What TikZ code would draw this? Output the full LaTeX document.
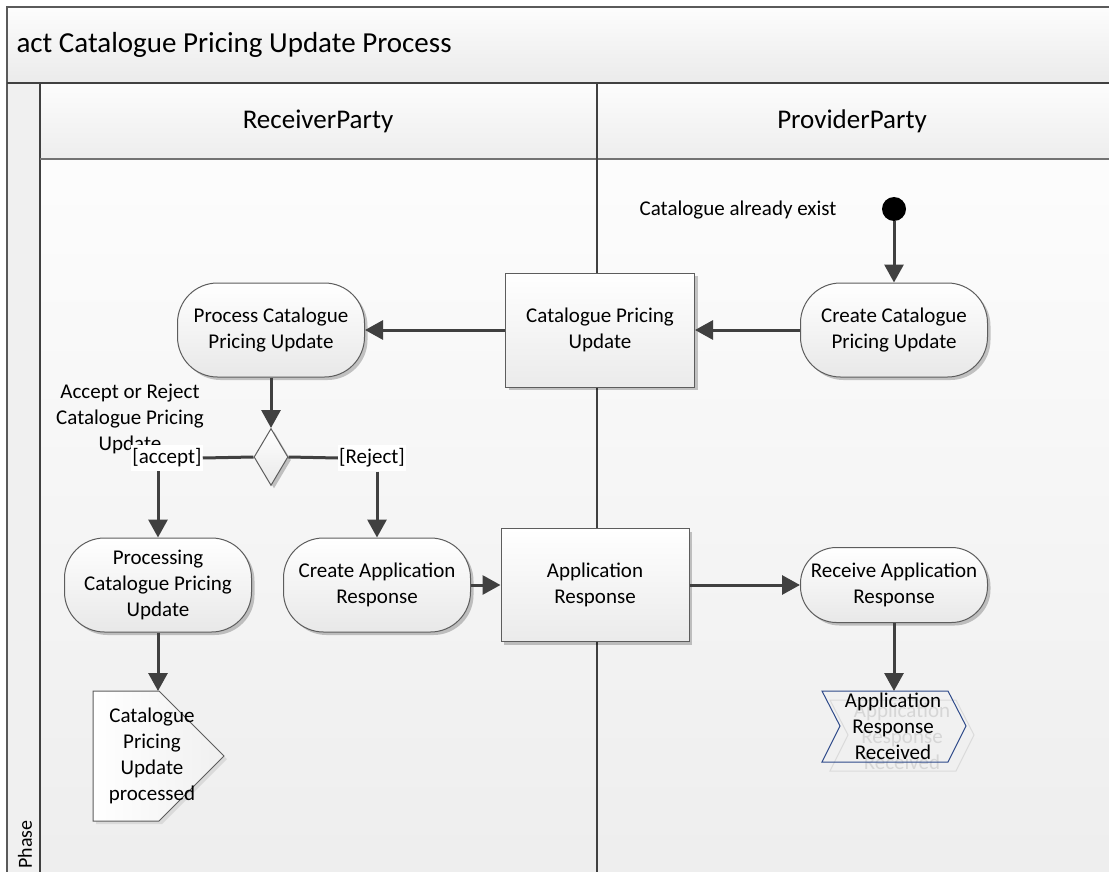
\documentclass[tikz,border=0pt]{standalone}
\usepackage{fontspec}
\setmainfont{Carlito}
\usetikzlibrary{arrows.meta,shapes.geometric,shadows}
\definecolor{ln}{HTML}{404040}
\definecolor{frame}{HTML}{5A5A5A}
\definecolor{evblue}{HTML}{2E4A8A}
\newcommand\txtbody{\fontsize{21}{26}\selectfont}
\newcommand\txttitle{\fontsize{29}{34}\selectfont}
\newcommand\txthead{\fontsize{27}{32}\selectfont}
\tikzset{
  sh/.style={drop shadow={shadow xshift=3pt,shadow yshift=-3pt,fill=black,opacity=.22}},
  action/.style={draw=ln!85,line width=1pt,rounded corners=40pt,minimum width=187pt,minimum height=94pt,
    align=center,top color=white,bottom color=black!9,sh,inner sep=2pt,font=\txtbody},
  objbox/.style={draw=ln!85,line width=1pt,rectangle,align=center,top color=white,bottom color=black!8,sh,font=\txtbody},
  flow/.style={draw=ln,line width=3pt,-{Triangle[length=18pt,width=19pt]}},
  plainflow/.style={draw=ln,line width=3pt},
  guard/.style={fill=white,inner xsep=1pt,inner ysep=4pt,font=\txtbody},
  lbl/.style={align=center,font=\txtbody},
}
\begin{document}
\begin{tikzpicture}[x=1pt,y=-1pt]
\useasboundingbox (0,0) rectangle (1109,872);
\begin{scope}
\clip (0,0) rectangle (1109,872);
\fill[white] (0,0) rectangle (1109,872);
% title band
\shade[top color=black!1,bottom color=black!8] (7,7) rectangle (1140,83);
% headers
\shade[top color=black!1,bottom color=black!7] (40,83) rectangle (1140,159);
% phase column
\fill[black!6] (7,83) rectangle (40,900);
% lane bodies
\shade[top color=black!1,bottom color=black!7] (40,159) rectangle (1140,900);
% lines
\draw[frame,line width=2pt] (7,900) -- (7,7) -- (1140,7);
\draw[ln,line width=2.5pt] (7,83) -- (1140,83);
\draw[ln,line width=1.6pt] (40,83) -- (40,900);
\draw[black!55,line width=1.6pt] (40,159) -- (1140,159);
\draw[ln,line width=2pt] (597,83) -- (597,900);
\end{scope}

% texts of the frame
\node[anchor=west,font=\txttitle] (title) at (13,45) {act Catalogue Pricing Update Process};
\node[font=\txthead] (recv) at (318,121) {ReceiverParty};
\node[font=\txthead] (prov) at (852,121) {ProviderParty};
\node[rotate=90,anchor=west,font=\fontsize{20}{24}\selectfont] (phase) at (25,872) {Phase};

% initial node
\node[circle,fill=black,minimum size=24pt,inner sep=0pt] (init) at (894,209) {};
\node[lbl] (exist) at (738,210) {Catalogue already exist};

% actions and objects
\node[action] (create) at (894,330) {Create Catalogue\\Pricing Update};
\node[objbox,minimum width=189pt,minimum height=114pt] (cpu) at (600,330) {Catalogue Pricing\\Update};
\node[action] (proc) at (271,330) {Process Catalogue\\Pricing Update};
\node[diamond,draw=ln!85,line width=1pt,top color=white,bottom color=black!9,sh,minimum width=34pt,minimum height=57pt,inner sep=0pt,aspect=0.6] (dia) at (271,457) {};
\node[lbl] (decide) at (130,419) {Accept or Reject\\Catalogue Pricing\\Update};
\node[guard] (acc) at (167,458) {[accept]};
\node[guard] (rej) at (372,458) {[Reject]};
\node[action] (procg) at (158,585) {Processing\\Catalogue Pricing\\Update};
\node[action] (cresp) at (377,585) {Create Application\\Response};
\node[objbox,minimum width=188pt,minimum height=113pt] (ar) at (595,585) {Application\\Response};
\node[action,minimum height=75pt,rounded corners=36pt] (recvar) at (894,585) {Receive Application\\Response};

% send signal
\fill[black!20,opacity=.6] (96,694) -- (162,694) -- (227,759) -- (162,824) -- (96,824) -- cycle;
\draw[ln!85,line width=1pt,left color=white,right color=black!6] (93,691) -- (159,691) -- (224,756) -- (159,821) -- (93,821) -- cycle;
\coordinate (sigtop) at (158,691);
\node[lbl] (sig) at (152,756) {Catalogue\\Pricing\\Update\\processed};

% accept event (with faint ghost)
\draw[black!14,line width=1pt] (830,700) -- (956,700) -- (974,735) -- (956,771) -- (830,771) -- (848,735) -- cycle;
\node[lbl,text=black!16] (ghost) at (902,736) {Application\\Response\\Received};
\draw[evblue,line width=1pt] (822,691) -- (948,691) -- (966,726) -- (948,762) -- (822,762) -- (840,726) -- cycle;
\coordinate (evtop) at (894,691);
\node[lbl] (ev) at (893,726) {Application\\Response\\Received};

% connectors
\draw[flow] (init) -- (create.north);
\draw[flow] (create.west) -- (cpu.east);
\draw[flow] (cpu.west) -- (proc.east);
\draw[flow] (proc.south) -- (dia.north);
\draw[plainflow] (dia.west) -- (acc.east);
\draw[plainflow] (dia.east) -- (rej.west);
\draw[flow] (acc.south -| procg.north) -- (procg.north);
\draw[flow] (rej.south -| cresp.north) -- (cresp.north);
\draw[flow] (procg.south) -- (sigtop);
\draw[flow] (cresp.east) -- (ar.west);
\draw[flow] (ar.east) -- (recvar.west);
\draw[flow] (recvar.south) -- (evtop);
\end{tikzpicture}
\end{document}
